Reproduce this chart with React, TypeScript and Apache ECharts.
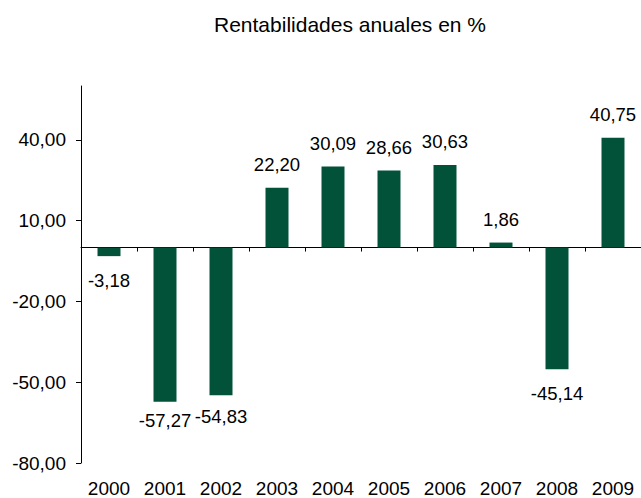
import React, { useEffect, useRef } from "react";
import * as echarts from "echarts";

const years = ["2000", "2001", "2002", "2003", "2004", "2005", "2006", "2007", "2008", "2009"];
const returns = [-3.18, -57.27, -54.83, 22.2, 30.09, 28.66, 30.63, 1.86, -45.14, 40.75];
const labelDistances = [15, 9.3, 12, 13.6, 13.6, 13.6, 13.6, 13.6, 15.3, 13.6];
const yTicks = [-80, -50, -20, 10, 40];
const titleText = "Rentabilidades anuales en %";

const FONT = "'Liberation Sans', Arial, sans-serif";
const BAR = "#02523A";
const fmt = (v: number) => v.toFixed(2).replace(".", ",");

export default function App() {
  const ref = useRef<HTMLDivElement>(null);
  useEffect(() => {
    if (!ref.current) return;
    const chart = echarts.init(ref.current, null, { renderer: "svg" });
    chart.setOption({
      animation: false,
      backgroundColor: "#ffffff",
      title: {
        text: titleText,
        left: 214,
        top: 14,
        padding: 0,
        textStyle: { fontFamily: FONT, fontSize: 21, fontWeight: "normal", color: "#000" },
      },
      grid: { left: 81, right: 0, top: 86, bottom: 35, outerBoundsMode: "none", containLabel: false },
      xAxis: [
        {
          type: "category",
          data: years,
          position: "bottom",
          axisLine: { onZero: true, lineStyle: { color: "#000", width: 1 } },
          axisTick: { show: true, length: 4, alignWithLabel: false, lineStyle: { color: "#000" } },
          axisLabel: { show: false },
          splitLine: { show: false },
        },
        {
          type: "category",
          data: years,
          position: "bottom",
          axisLine: { show: false, onZero: false },
          axisTick: { show: false },
          axisLabel: {
            show: true,
            margin: 18,
            fontFamily: FONT,
            fontSize: 19,
            lineHeight: 14,
            color: "#000",
          },
          splitLine: { show: false },
        },
      ],
      yAxis: {
        type: "value",
        min: -80,
        max: 60,
        axisLine: { show: true, lineStyle: { color: "#000", width: 1 } },
        axisTick: { show: true, length: 5, customValues: yTicks, lineStyle: { color: "#000" } },
        axisLabel: {
          show: true,
          customValues: yTicks,
          margin: 15,
          fontFamily: FONT,
          fontSize: 19,
          color: "#000",
          formatter: (v: number) => fmt(v),
        },
        splitLine: { show: false },
      },
      series: [
        {
          type: "bar",
          xAxisIndex: 0,
          barWidth: 23,
          itemStyle: { color: BAR },
          data: returns.map((v, i) => ({
            value: v,
            label: {
              show: true,
              position: v >= 0 ? "top" : "bottom",
              distance: labelDistances[i],
              formatter: fmt(v),
              fontFamily: FONT,
              fontSize: 18.5,
              color: "#000",
            },
          })),
        },
      ],
    });
    return () => chart.dispose();
  }, []);
  return (
    <div
      ref={ref}
      style={{ position: "fixed", left: 0, top: 0, width: 641, height: 498, background: "#fff" }}
    />
  );
}
